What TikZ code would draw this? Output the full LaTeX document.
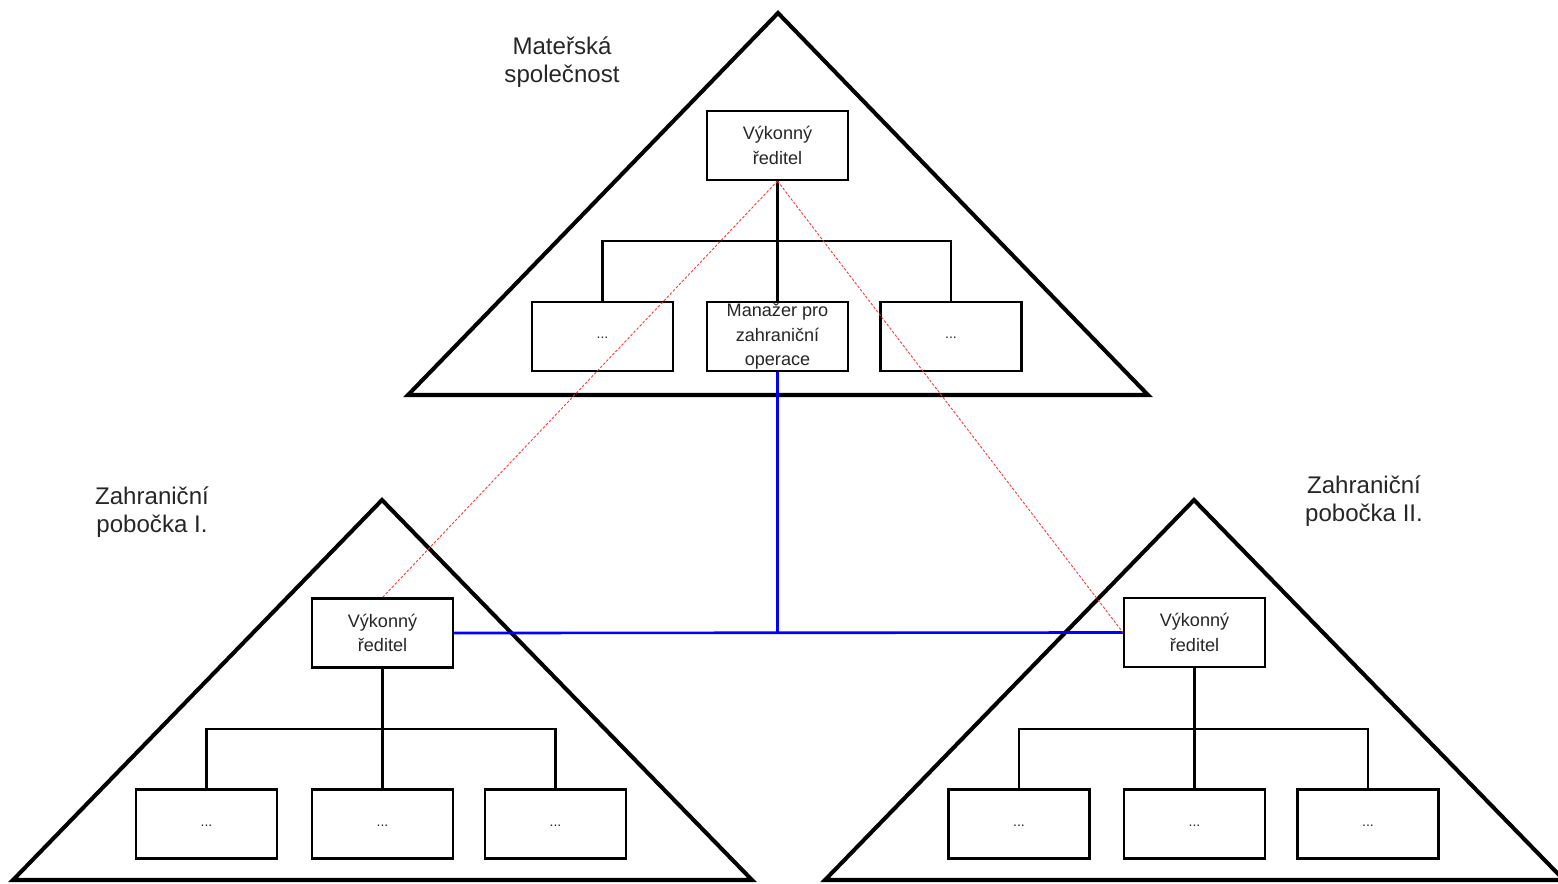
\documentclass[tikz,border=0pt]{standalone}
\usepackage{fontspec}
\setmainfont{Liberation Sans}
\newcommand\mydots{\raisebox{-2.8pt}{...}}
\begin{document}
\begin{tikzpicture}[x=0.02cm,y=-0.02cm,
  tri/.style={draw=black,line width=2.3pt,line join=miter},
  box/.style={draw=black,line width=1.2pt,fill=white,minimum width=141*0.02cm,minimum height=69*0.02cm,inner sep=0pt,align=center,font=\fontsize{10.3}{14}\selectfont,text=black!85},
  dots/.style={box,font=\fontsize{8}{10}\selectfont},
  conn/.style={draw=black,line width=1.4pt},
  blueline/.style={draw=blue,line width=1.5pt},
  redline/.style={draw=red!80,line width=0.5pt,dash pattern=on 1.5pt off 1pt},
  lbl/.style={align=center,font=\fontsize{13.7}{16}\selectfont,text=black!85}]
\useasboundingbox (0,0) rectangle (1558,883);
\clip (0,0) rectangle (1558,883);
% triangles
\draw[tri] (778,13) -- (1148,395) -- (408,395) -- cycle;
\draw[tri] (382,500) -- (752,880) -- (13,880) -- cycle;
\draw[tri] (1194,500) -- (1564,880) -- (825,880) -- cycle;
% labels
\node[lbl] (lm) at (562,62) {Mateřská\\společnost};
\node[lbl] (l1) at (152,512) {Zahraniční\\pobočka I.};
\node[lbl] (l2) at (1364,501) {Zahraniční\\pobočka II.};
% top company
\node[box] (ceo) at (777.5,145.5) {Výkonný\\ředitel};
\node[dots] (t1) at (602.5,336.5) {\mydots};
\node[box] (mgr) at (777.5,336.5) {Manažer pro\\zahraniční\\operace};
\node[dots] (t3) at (951,336.5) {\mydots};
\coordinate (tb) at (777.5,241);
\draw[conn] (ceo.south) -- (mgr.north);
\draw[conn] (t1.north) |- (tb) -| (t3.north);
% branch I
\node[box] (c1) at (382.5,633) {Výkonný\\ředitel};
\node[dots] (a1) at (206.5,824) {\mydots};
\node[dots] (a2) at (382.5,824) {\mydots};
\node[dots] (a3) at (555.5,824) {\mydots};
\coordinate (b1) at (382.5,729);
\draw[conn] (c1.south) -- (a2.north);
\draw[conn] (a1.north) |- (b1) -| (a3.north);
% branch II
\node[box] (c2) at (1194.5,632.5) {Výkonný\\ředitel};
\node[dots] (d1) at (1019,824) {\mydots};
\node[dots] (d2) at (1194.5,824) {\mydots};
\node[dots] (d3) at (1368,824) {\mydots};
\coordinate (b2) at (1194.5,729);
\draw[conn] (c2.south) -- (d2.north);
\draw[conn] (d1.north) |- (b2) -| (d3.north);
% blue links
\coordinate (j) at (777.5,632.5);
\draw[blueline] (mgr.south) -- (j);
\draw[blueline] (c1.east) -- (c2.west);
% red dashed links
\draw[redline] (ceo.south) -- (c1.north);
\draw[redline] (ceo.south) -- (c2.west);
\end{tikzpicture}
\end{document}
